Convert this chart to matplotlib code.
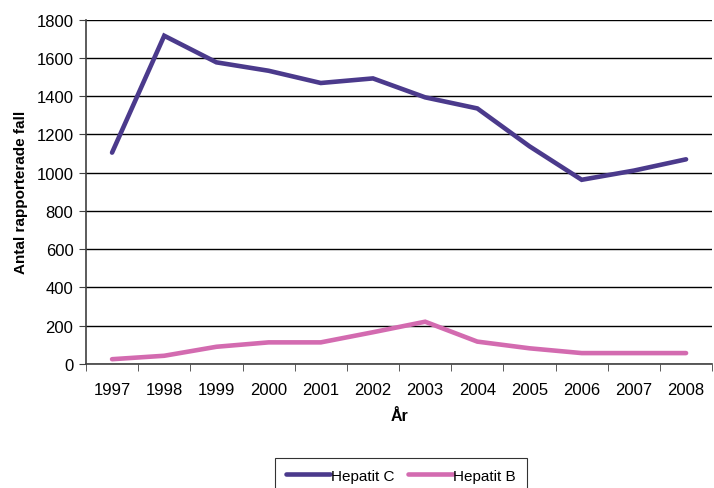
import numpy as np
import matplotlib.pyplot as plt

plt.rcParams['font.family'] = ['Liberation Sans', 'DejaVu Sans']

years = ['1997', '1998', '1999', '2000', '2001', '2002',
         '2003', '2004', '2005', '2006', '2007', '2008']
hep_c = [1105, 1716, 1577, 1533, 1469, 1493, 1394, 1336, 1138, 963, 1011, 1070]
hep_b = [25, 43, 90, 113, 113, 166, 221, 117, 82, 57, 57, 57]

fig = plt.figure(figsize=(7.14, 4.89), dpi=100)
ax = fig.add_axes([0.1204, 0.2536, 0.877, 0.7041])

x = np.arange(len(years))
ax.plot(x, hep_c, color='#4B3A8C', lw=3.3, solid_capstyle='round',
        solid_joinstyle='miter', label='Hepatit C')
ax.plot(x, hep_b, color='#D36BB0', lw=3.3, solid_capstyle='round',
        solid_joinstyle='miter', label='Hepatit B')

ax.set_xlim(-0.5, len(years) - 0.5)
ax.set_ylim(0, 1800)
ax.set_yticks(np.arange(0, 1801, 200))
ax.yaxis.grid(True, color='black', lw=1)
ax.set_axisbelow(True)

ax.set_xticks(x)
ax.set_xticklabels(years)
ax.set_xticks(np.arange(-0.5, len(years), 1), minor=True)
ax.tick_params(axis='x', which='major', length=0, pad=13, labelsize=12)
ax.tick_params(axis='x', which='minor', length=5, color='#404040')
ax.tick_params(axis='y', length=5, color='#404040', labelsize=12, pad=4)

for s in ['top', 'right']:
    ax.spines[s].set_visible(False)
for s in ['left', 'bottom']:
    ax.spines[s].set_color('#404040')
    ax.spines[s].set_linewidth(1.2)

ax.set_xlabel('År', fontweight='bold', fontsize=11.5, labelpad=8)
ax.set_ylabel('Antal rapporterade fall', fontweight='bold', fontsize=11, labelpad=6)

leg = fig.legend(loc='upper center', bbox_to_anchor=(0.5616, 0.0613), ncol=2,
                 fontsize=11, frameon=True, fancybox=False, edgecolor='black',
                 handlelength=2.9, handletextpad=0.05, columnspacing=0.9,
                 borderpad=0.7, borderaxespad=0)
leg.get_frame().set_linewidth(0.8)

fig.savefig('out.png', dpi=100)
